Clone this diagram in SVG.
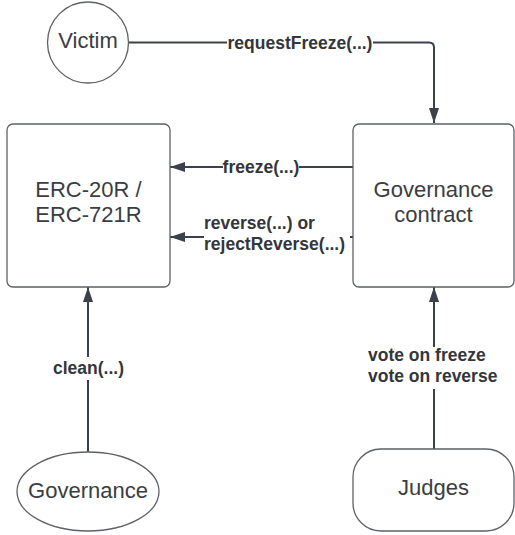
<svg xmlns="http://www.w3.org/2000/svg" width="515" height="535" viewBox="0 0 515 535">
<style>
.node{fill:#ffffff;stroke:#5e6166;stroke-width:1.3}
.nt{font-family:"Liberation Sans",Arial,sans-serif;font-size:22px;fill:#3a3d42;text-anchor:middle}
.edge{fill:none;stroke:#3a414a;stroke-width:2}
.lbl{font-family:"Liberation Sans",Arial,sans-serif;font-size:17.5px;font-weight:bold;fill:#33363b}
.bg{fill:#ffffff}
</style>
<defs>
<marker id="arr" viewBox="0 0 15 10" refX="15" refY="5" markerWidth="15" markerHeight="10" markerUnits="userSpaceOnUse" orient="auto">
<path d="M0,0 L15,5 L0,10 Z" fill="#3a414a"/>
</marker>
</defs>
<g id="connectors">
<path class="edge" d="M128.5,42.5 H429 Q434,42.5 434,47.5 V123" marker-end="url(#arr)"/>
<rect class="bg" x="227" y="32" width="146" height="22"/>
<text class="lbl" x="300" y="48.5" text-anchor="middle">requestFreeze(...)</text>
<path class="edge" d="M353,167 H170" marker-end="url(#arr)"/>
<rect class="bg" x="223" y="157" width="76" height="20"/>
<text class="lbl" x="261" y="173" text-anchor="middle">freeze(...)</text>
<path class="edge" d="M353,237 H170" marker-end="url(#arr)"/>
<rect class="bg" x="204" y="214" width="146" height="42"/>
<text class="lbl" x="204" y="229">reverse(...) or</text>
<text class="lbl" x="204" y="250">rejectReverse(...)</text>
<path class="edge" d="M88,452 V287" marker-end="url(#arr)"/>
<rect class="bg" x="50" y="357" width="76" height="23"/>
<text class="lbl" x="88.5" y="374" text-anchor="middle">clean(...)</text>
<path class="edge" d="M434,449 V287" marker-end="url(#arr)"/>
<rect class="bg" x="366" y="347" width="136" height="42"/>
<text class="lbl" x="368" y="361">vote on freeze</text>
<text class="lbl" x="368" y="382">vote on reverse</text>
</g>
<g id="victim">
<circle class="node" cx="88" cy="42.5" r="40.5"/>
<text class="nt" x="88" y="48">Victim</text>
</g>
<g id="erc">
<rect class="node" x="7" y="124" width="163" height="163" rx="6"/>
<text class="nt" x="88.5" y="197">ERC-20R /</text>
<text class="nt" x="88.5" y="222">ERC-721R</text>
</g>
<g id="governance-contract">
<rect class="node" x="353" y="124" width="161" height="163" rx="6"/>
<text class="nt" x="433.5" y="197">Governance</text>
<text class="nt" x="433.5" y="222">contract</text>
</g>
<g id="governance">
<ellipse class="node" cx="88" cy="491.5" rx="71" ry="39.5"/>
<text class="nt" x="88" y="498">Governance</text>
</g>
<g id="judges">
<rect class="node" x="353" y="449" width="161" height="82" rx="28"/>
<text class="nt" x="433.5" y="495">Judges</text>
</g>
</svg>
